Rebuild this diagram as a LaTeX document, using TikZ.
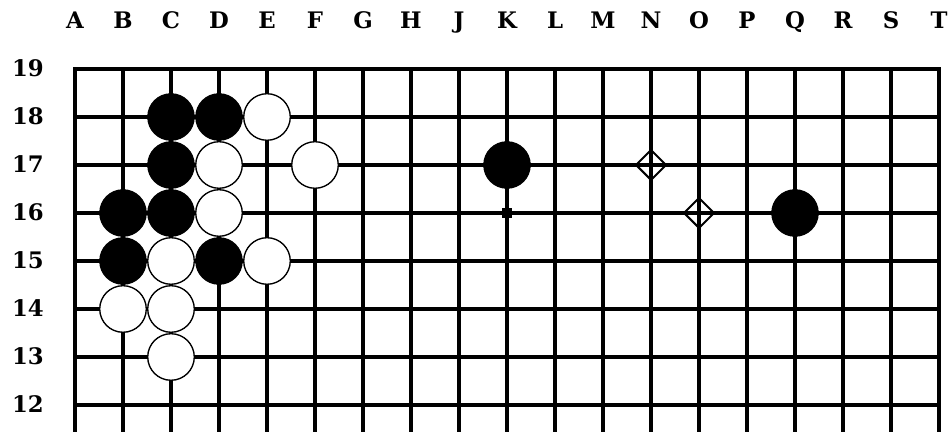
\documentclass[tikz,border=0pt]{standalone}
\usepackage{fontspec}
\setmainfont{DejaVu Serif}
\usetikzlibrary{shapes.geometric}
\definecolor{ink}{HTML}{000000}
\definecolor{paper}{HTML}{FFFFFF}
\tikzset{
  gridline/.style={draw=ink, line width=1.8pt},
  blackstone/.style={circle, fill=ink, draw=ink, line width=0.6pt,
                     minimum size=0.97cm, inner sep=0pt},
  whitestone/.style={circle, fill=paper, draw=ink, line width=0.8pt,
                     minimum size=0.97cm, inner sep=0pt},
  coordlabel/.style={font=\fontsize{13.5}{15}\selectfont\bfseries, text=ink,
                     inner sep=0pt, anchor=base},
  markdiamond/.style={diamond, draw=ink, line width=1.2pt, aspect=1,
                      minimum width=0.64cm, minimum height=0.64cm, inner sep=0pt},
  starpoint/.style={rectangle, fill=ink, minimum size=0.2cm, inner sep=0pt}
}

\begin{document}
\begin{tikzpicture}[x=1cm,y=1cm]
  \useasboundingbox[fill=paper] (-1.5625,11.4375) rectangle (18.1875,20.4375);

  % grid, cut off below row 12
  \foreach \c in {0,...,18}
    \draw[gridline] (\c,19) -- (\c,11.4375);
  \foreach \r in {12,...,19}
    \draw[gridline, line cap=rect] (0,\r) -- (18,\r);

  % coordinates
  \foreach \l [count=\i from 0] in {A,B,C,D,E,F,G,H,J,K,L,M,N,O,P,Q,R,S,T}
    \node[coordlabel] (col-\l) at (\i,19.85) {\l};
  \foreach \r in {12,...,19}
    \node[coordlabel] (row-\r) at (-0.98,\r-0.15) {\r};

  \node[starpoint] (hoshi-K16) at (9,16) {};

  % stones
  \foreach \c/\r/\n in {2/18/C18,3/18/D18,2/17/C17,9/17/K17,1/16/B16,2/16/C16,
                        15/16/Q16,1/15/B15,3/15/D15}
    \node[blackstone] (b-\n) at (\c,\r) {};
  \foreach \c/\r/\n in {4/18/E18,3/17/D17,5/17/F17,3/16/D16,2/15/C15,4/15/E15,
                        1/14/B14,2/14/C14,2/13/C13}
    \node[whitestone] (w-\n) at (\c,\r) {};

  % marks
  \node[markdiamond] (mark-N17) at (12,17) {};
  \node[markdiamond] (mark-O16) at (13,16) {};
\end{tikzpicture}
\end{document}
